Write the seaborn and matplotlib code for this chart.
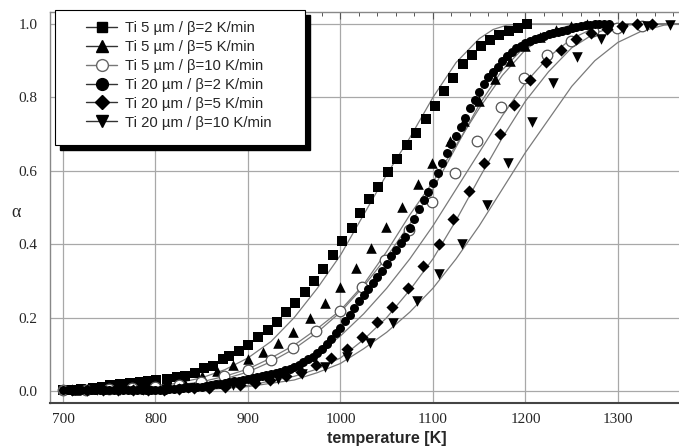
import matplotlib
matplotlib.use("Agg")
import matplotlib.pyplot as plt
from matplotlib.lines import Line2D
from matplotlib.patches import Rectangle
from matplotlib.ticker import MultipleLocator
import seaborn as sns
import pandas as pd

# ---------------- data ----------------
labels = ["Ti 5 µm / β=2 K/min", "Ti 5 µm / β=5 K/min", "Ti 5 µm / β=10 K/min",
          "Ti 20 µm / β=2 K/min", "Ti 20 µm / β=5 K/min", "Ti 20 µm / β=10 K/min"]

sq_T = [700, 710, 720, 732, 742, 751, 762, 772, 783, 792, 801, 812, 823, 832, 843, 852, 862, 873, 880, 890,
        900, 911, 922, 931, 941, 951, 962, 971, 981, 992, 1002, 1012, 1021, 1031, 1041, 1051, 1061, 1072, 1082, 1092,
        1102, 1112, 1122, 1132, 1142, 1152, 1162, 1171, 1182, 1192, 1202]
sq_a = [0.004, 0.004, 0.005, 0.008, 0.011, 0.016, 0.019, 0.022, 0.025, 0.027, 0.030, 0.033, 0.038, 0.041, 0.049,
        0.063, 0.068, 0.087, 0.095, 0.11, 0.125, 0.147, 0.166, 0.188, 0.215, 0.24, 0.27, 0.30, 0.332, 0.37,
        0.41, 0.444, 0.485, 0.523, 0.556, 0.597, 0.632, 0.67, 0.703, 0.741, 0.777, 0.817, 0.853, 0.89, 0.916,
        0.94, 0.956, 0.97, 0.98, 0.99, 1.0]

tr_T = [714, 731, 747, 764, 780, 797, 813, 830, 850, 867, 884, 900, 916, 933, 949, 967, 983, 999, 1017, 1033,
        1049, 1066, 1084, 1099, 1118, 1134, 1150, 1167, 1183, 1200, 1216, 1233, 1249, 1266]
tr_a = [0.004, 0.006, 0.008, 0.011, 0.014, 0.018, 0.024, 0.031, 0.042, 0.054, 0.07, 0.087, 0.107, 0.132, 0.16,
        0.198, 0.24, 0.283, 0.335, 0.39, 0.447, 0.50, 0.563, 0.62, 0.68, 0.735, 0.79, 0.85, 0.90, 0.94,
        0.965, 0.985, 0.995, 1.0]

oc_T = [700, 725, 750, 775, 800, 825, 849, 874, 900, 925, 949, 974, 999, 1023, 1048, 1074, 1099, 1124, 1148,
        1174, 1198, 1223, 1249, 1273, 1299, 1326]
oc_a = [0.003, 0.004, 0.006, 0.008, 0.011, 0.016, 0.025, 0.04, 0.057, 0.085, 0.117, 0.163, 0.218, 0.283, 0.357,
        0.44, 0.515, 0.594, 0.68, 0.774, 0.853, 0.916, 0.954, 0.98, 0.99, 0.995]

fc_T = list(range(700, 1295, 5))
fc_a = [0.003, 0.004, 0.003, 0.004, 0.004, 0.003, 0.002, 0.002, 0.003, 0.003,
        0.003, 0.003, 0.002, 0.003, 0.003, 0.003, 0.002, 0.002, 0.003, 0.003,
        0.003, 0.004, 0.004, 0.005, 0.006, 0.007, 0.008, 0.009, 0.010, 0.011,
        0.012, 0.014, 0.016, 0.018, 0.020, 0.022, 0.024, 0.026, 0.028, 0.030,
        0.033, 0.035, 0.038, 0.040, 0.043, 0.046, 0.049, 0.053, 0.057, 0.061,
        0.065, 0.071, 0.078, 0.086, 0.094, 0.103, 0.115, 0.128, 0.142, 0.157,
        0.173, 0.19, 0.207, 0.226, 0.245, 0.262, 0.278, 0.293, 0.31, 0.327,
        0.347, 0.367, 0.385, 0.403, 0.42, 0.445, 0.47, 0.495, 0.52, 0.543,
        0.568, 0.595, 0.622, 0.648, 0.672, 0.695, 0.72, 0.745, 0.77, 0.792,
        0.815, 0.837, 0.855, 0.869, 0.884, 0.898, 0.912, 0.925, 0.934, 0.941,
        0.947, 0.953, 0.958, 0.963, 0.968, 0.972, 0.976, 0.979, 0.982, 0.985,
        0.989, 0.992, 0.994, 0.996, 0.998, 0.999, 1.0, 1.0, 1.0]

dm_T = [710, 726, 743, 759, 776, 792, 809, 825, 842, 858, 875, 891, 908, 924, 941, 957, 974, 990,
        1007, 1023, 1040, 1056, 1073, 1089, 1106, 1122, 1139, 1155, 1172, 1188, 1205, 1222, 1238, 1255,
        1271, 1288, 1304, 1321, 1337]
dm_a = [0.003, 0.003, 0.002, 0.003, 0.003, 0.003, 0.004, 0.005, 0.007, 0.009, 0.012, 0.016, 0.022, 0.03,
        0.04, 0.053, 0.07, 0.09, 0.114, 0.147, 0.188, 0.23, 0.28, 0.34, 0.40, 0.47, 0.545, 0.62, 0.70,
        0.78, 0.847, 0.896, 0.93, 0.96, 0.975, 0.986, 0.995, 1.0, 1.0]

td_T = [713, 737, 762, 786, 811, 835, 860, 884, 909, 933, 958, 983, 1007, 1032, 1057, 1083, 1107, 1131,
        1158, 1181, 1207, 1230, 1256, 1282, 1305, 1331, 1356]
td_a = [0.003, 0.003, 0.003, 0.004, 0.005, 0.007, 0.011, 0.016, 0.023, 0.033, 0.047, 0.065, 0.093, 0.13,
        0.185, 0.245, 0.32, 0.40, 0.507, 0.62, 0.733, 0.84, 0.91, 0.96, 0.986, 0.995, 0.997]

# fitted model curves (read at 25 K steps)
fit_sq_T = [750, 800, 825, 850, 875, 900, 925, 950, 975, 1000, 1025, 1050, 1075, 1100, 1125, 1150, 1165,
            1180, 1200, 1366]
fit_sq_a = [0.003, 0.012, 0.022, 0.036, 0.058, 0.09, 0.135, 0.20, 0.28, 0.37, 0.48, 0.59, 0.69, 0.80, 0.895,
            0.96, 0.985, 0.997, 1.0, 1.0]
fit_tr_T = [750, 800, 850, 875, 900, 925, 950, 975, 1000, 1025, 1050, 1075, 1100, 1125, 1150, 1175, 1200,
            1225, 1250, 1275, 1366]
fit_tr_a = [0.002, 0.008, 0.025, 0.04, 0.06, 0.09, 0.125, 0.17, 0.22, 0.29, 0.38, 0.48, 0.57, 0.67, 0.77,
            0.86, 0.93, 0.975, 0.997, 1.0, 1.0]
fit_fc_T = [750, 800, 850, 875, 900, 925, 950, 975, 1000, 1025, 1050, 1075, 1100, 1125, 1150, 1175, 1200,
            1225, 1250, 1275, 1366]
fit_fc_a = [0.001, 0.006, 0.02, 0.033, 0.052, 0.08, 0.115, 0.16, 0.215, 0.285, 0.365, 0.455, 0.55, 0.665,
            0.78, 0.875, 0.94, 0.98, 0.997, 1.0, 1.0]
fit_oc_T = [800, 850, 900, 925, 950, 975, 1000, 1025, 1050, 1075, 1100, 1125, 1150, 1175, 1200, 1225, 1250,
            1275, 1300, 1366]
fit_oc_a = [0.003, 0.01, 0.025, 0.037, 0.06, 0.1, 0.15, 0.21, 0.28, 0.36, 0.45, 0.55, 0.65, 0.75, 0.84,
            0.91, 0.96, 0.99, 1.0, 1.0]
fit_dm_T = [850, 900, 950, 975, 1000, 1025, 1050, 1075, 1100, 1125, 1150, 1175, 1200, 1225, 1250, 1275,
            1300, 1325, 1366]
fit_dm_a = [0.005, 0.015, 0.04, 0.06, 0.09, 0.14, 0.20, 0.275, 0.36, 0.465, 0.58, 0.69, 0.79, 0.87, 0.935,
            0.975, 0.995, 1.0, 1.0]
fit_td_T = [850, 900, 950, 975, 1000, 1025, 1050, 1075, 1100, 1125, 1150, 1175, 1200, 1225, 1250, 1275,
            1300, 1325, 1350, 1366]
fit_td_a = [0.003, 0.012, 0.03, 0.05, 0.075, 0.115, 0.16, 0.215, 0.28, 0.36, 0.45, 0.55, 0.65, 0.74, 0.83,
            0.90, 0.95, 0.98, 0.997, 1.0]

x_ticks = [700, 800, 900, 1000, 1100, 1200, 1300]
y_ticks = [0.0, 0.2, 0.4, 0.6, 0.8, 1.0]

# ---------------- figure ----------------
sns.set_theme(style="white")
plt.rcParams["font.family"] = ["Liberation Sans", "DejaVu Sans"]

W, H = 679, 448
fig = plt.figure(figsize=(W / 100, H / 100), dpi=100)
ax = fig.add_axes([50 / W, 45 / H, 629 / W, 391 / H])

fits = [(fit_sq_T, fit_sq_a), (fit_tr_T, fit_tr_a), (fit_oc_T, fit_oc_a),
        (fit_fc_T, fit_fc_a), (fit_dm_T, fit_dm_a), (fit_td_T, fit_td_a)]
for t, a in fits:
    sns.lineplot(x=t, y=a, sort=False, estimator=None, color="#7a7a7a", lw=0.9, ax=ax, zorder=2)

series = [
    (sq_T, sq_a, "s", 50, "black", "black", 0.0),
    (tr_T, tr_a, "^", 58, "black", "black", 0.0),
    (oc_T, oc_a, "o", 58, "white", "#555555", 0.9),
    (fc_T, fc_a, "o", 42, "black", "black", 0.0),
    (dm_T, dm_a, "D", 38, "black", "black", 0.0),
    (td_T, td_a, "v", 58, "black", "black", 0.0),
]
for t, a, m, s, fcol, ecol, lw in series:
    df = pd.DataFrame({"T": t, "alpha": a})
    sns.scatterplot(data=df, x="T", y="alpha", marker=m, s=s, color=fcol, edgecolor=ecol,
                    linewidth=lw, ax=ax, zorder=3, legend=False)

ax.set_xlim(686, 1366)
ax.set_ylim(-0.0327, 1.0327)
ax.set_xticks(x_ticks)
ax.set_yticks(y_ticks)
ax.xaxis.set_minor_locator(MultipleLocator(20))
ax.yaxis.set_minor_locator(MultipleLocator(0.05))
ax.set_xticklabels([str(v) for v in x_ticks], family="Liberation Serif", fontsize=11)
ax.set_yticklabels([f"{v:.1f}" for v in y_ticks], family="Liberation Serif", fontsize=11)
ax.tick_params(which="both", direction="in", top=True, right=False, color="#555555")
ax.tick_params(which="major", length=5, width=0.8)
ax.tick_params(which="minor", length=3, width=0.7)
ax.tick_params(axis="x", pad=7)
ax.tick_params(axis="y", pad=9)
ax.grid(True, which="major", color="#a8a8a8", lw=0.9)
ax.set_xlabel("")
ax.set_ylabel("")
for sp in ["left", "top"]:
    ax.spines[sp].set_color("#888888")
    ax.spines[sp].set_linewidth(1.0)
ax.spines["bottom"].set_color("#444444")
ax.spines["bottom"].set_linewidth(1.5)
ax.spines["right"].set_visible(False)

fig.text(387 / W, 1 - 438 / H, "temperature [K]", ha="center", va="center",
         fontsize=11.5, fontweight="bold", family="Liberation Sans")
fig.text(16 / W, 1 - 212 / H, "α", ha="center", va="center", fontsize=13, family="Liberation Serif")

# legend box with hard black shadow
fig.add_artist(Rectangle((60 / W, 1 - 150 / H), 250 / W, 135 / H, transform=fig.transFigure,
                         facecolor="black", edgecolor="black", zorder=2))
fig.add_artist(Rectangle((55 / W, 1 - 145 / H), 250 / W, 135 / H, transform=fig.transFigure,
                         facecolor="white", edgecolor="black", lw=0.8, zorder=3))

handles = [
    Line2D([0], [0], color="#333333", lw=1, marker="s", ms=7.5, mfc="black", mec="black"),
    Line2D([0], [0], color="#333333", lw=1, marker="^", ms=8.5, mfc="black", mec="black"),
    Line2D([0], [0], color="#777777", lw=1, marker="o", ms=8.5, mfc="white", mec="#666666"),
    Line2D([0], [0], color="#333333", lw=1, marker="o", ms=8.5, mfc="black", mec="black"),
    Line2D([0], [0], color="#333333", lw=1, marker="D", ms=7, mfc="black", mec="black"),
    Line2D([0], [0], color="#333333", lw=1, marker="v", ms=8.5, mfc="black", mec="black"),
]
leg = fig.legend(handles, labels, loc="upper left", bbox_to_anchor=(86 / W, 1 - 21 / H),
                 bbox_transform=fig.transFigure, frameon=False, borderpad=0, borderaxespad=0,
                 handlelength=2.1, handletextpad=0.55, labelspacing=0.33,
                 prop={"family": "Liberation Sans", "size": 10.7})
leg.set_zorder(5)

fig.savefig("out.png", dpi=100)
